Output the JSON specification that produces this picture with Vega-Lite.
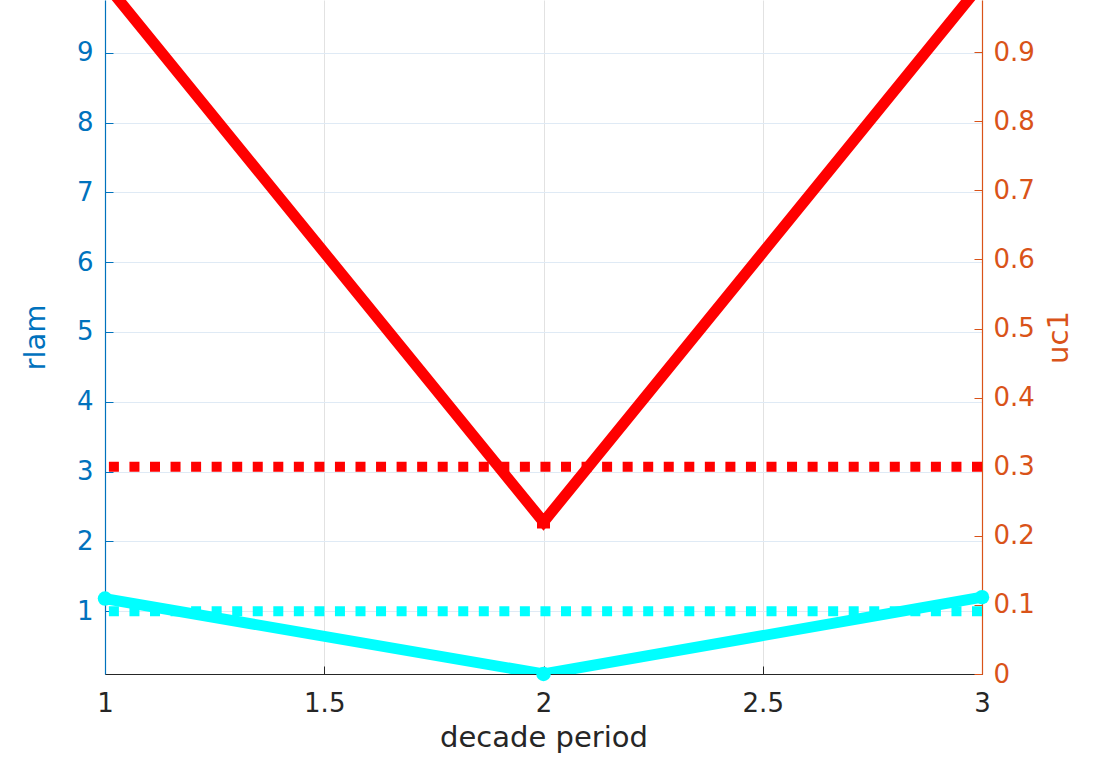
{
  "$schema": "https://vega.github.io/schema/vega-lite/v6.json",
  "width": 877,
  "height": 674,
  "autosize": {"type": "none"},
  "padding": {"left": 105, "top": 0, "right": 112, "bottom": 83},
  "background": "white",
  "config": {
    "view": {"stroke": null},
    "font": "DejaVu Sans",
    "axis": {
      "labelFont": "DejaVu Sans",
      "titleFont": "DejaVu Sans",
      "labelFontSize": 26,
      "titleFontSize": 29,
      "titleFontWeight": "normal",
      "tickSize": -8,
      "tickWidth": 1,
      "domainWidth": 1.2,
      "labelFlush": false
    }
  },
  "datasets": {
    "series": [
      {"period": 1, "rlam": 1.18, "uc1": 1.0},
      {"period": 2, "rlam": 0.1, "uc1": 0.22},
      {"period": 3, "rlam": 1.2, "uc1": 1.0}
    ],
    "thr": [{"rlam_thr": 1, "uc1_thr": 0.3}]
  },
  "layer": [
    {
      "layer": [
        {
          "data": {"name": "series"},
          "mark": {"type": "line", "color": "#00FFFF", "strokeWidth": 11, "clip": true},
          "encoding": {
            "x": {
              "field": "period", "type": "quantitative",
              "scale": {"domain": [1, 3], "nice": false, "zero": false},
              "axis": {
                "values": [1, 1.5, 2, 2.5, 3], "format": "~g",
                "title": "decade period",
                "grid": true, "gridColor": "#e2e2e2",
                "domainColor": "#262626", "tickColor": "#262626",
                "labelColor": "#262626", "titleColor": "#262626",
                "labelPadding": 24, "titlePadding": 7
              }
            },
            "y": {
              "field": "rlam", "type": "quantitative",
              "scale": {"domain": [0.1, 9.756], "nice": false, "zero": false},
              "axis": {
                "orient": "left",
                "values": [1, 2, 3, 4, 5, 6, 7, 8, 9], "format": "~g",
                "title": "rlam",
                "grid": true, "gridColor": "#dfeaf5",
                "domainColor": "#0072BD", "tickColor": "#0072BD",
                "labelColor": "#0072BD", "titleColor": "#0072BD",
                "labelPadding": 20, "titlePadding": 26
              }
            }
          }
        },
        {
          "data": {"name": "series"},
          "mark": {"type": "point", "filled": true, "shape": "circle", "size": 210, "color": "#00FFFF", "opacity": 1},
          "encoding": {
            "x": {"field": "period", "type": "quantitative"},
            "y": {"field": "rlam", "type": "quantitative"}
          }
        },
        {
          "data": {"name": "thr"},
          "mark": {"type": "rule", "color": "#00FFFF", "strokeWidth": 10, "strokeDash": [10, 10.55], "strokeCap": "butt"},
          "encoding": {
            "y": {"field": "rlam_thr", "type": "quantitative"}
          }
        }
      ]
    },
    {
      "layer": [
        {
          "data": {"name": "series"},
          "mark": {"type": "line", "color": "#FF0000", "strokeWidth": 11, "clip": true},
          "encoding": {
            "x": {"field": "period", "type": "quantitative"},
            "y": {
              "field": "uc1", "type": "quantitative",
              "scale": {"domain": [0, 0.9754], "nice": false, "zero": false},
              "axis": {
                "orient": "right",
                "values": [0, 0.1, 0.2, 0.3, 0.4, 0.5, 0.6, 0.7, 0.8, 0.9], "format": "~g",
                "title": "uc1",
                "grid": false,
                "domainColor": "#D95319", "tickColor": "#D95319",
                "labelColor": "#D95319", "titleColor": "#D95319",
                "labelPadding": 19, "titlePadding": 10,
                "titleAngle": 270, "titleBaseline": "top"
              }
            }
          }
        },
        {
          "data": {"name": "series"},
          "mark": {"type": "point", "filled": true, "shape": "square", "size": 170, "color": "#FF0000", "opacity": 1},
          "encoding": {
            "x": {"field": "period", "type": "quantitative"},
            "y": {"field": "uc1", "type": "quantitative"}
          }
        },
        {
          "data": {"name": "thr"},
          "mark": {"type": "rule", "color": "#FF0000", "strokeWidth": 10, "strokeDash": [10, 10.55], "strokeCap": "butt"},
          "encoding": {
            "y": {"field": "uc1_thr", "type": "quantitative"}
          }
        }
      ]
    }
  ],
  "resolve": {"scale": {"y": "independent"}}
}
